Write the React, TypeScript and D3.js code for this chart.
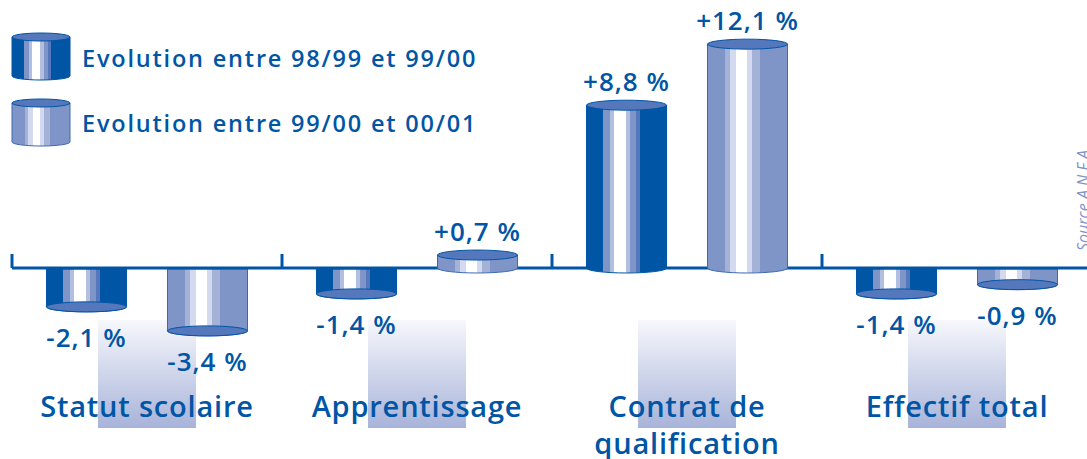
import React from "react";
import * as d3 from "d3";

const categories = ["Statut scolaire", "Apprentissage", "Contrat de qualification", "Effectif total"];
const categoryLines = [["Statut scolaire"], ["Apprentissage"], ["Contrat de", "qualification"], ["Effectif total"]];
const seriesKeys = ["s1", "s2"];
const seriesNames = ["Evolution entre 98/99 et 99/00", "Evolution entre 99/00 et 00/01"];
const series1 = [-2.1, -1.4, 8.8, -1.4];
const series2 = [-3.4, 0.7, 12.1, -0.9];
const sourceText = "Source A.N.F.A";

const W = 1087;
const H = 459;
const BLUE = "#0055a5";
const CAP = "#5577bb";
const FONT = "'Open Sans', 'Noto Sans', sans-serif";

const stops1: [number, number, string][] = [
  [0, 0.21, "#0055a5"],
  [0.21, 0.29, "#7f95c8"],
  [0.29, 0.35, "#b3bfe0"],
  [0.35, 0.49, "#ffffff"],
  [0.49, 0.55, "#b3bfe0"],
  [0.55, 0.62, "#7f95c8"],
  [0.62, 0.67, "#5577bb"],
  [0.67, 1, "#0055a5"],
];
const stops2: [number, number, string][] = [
  [0, 0.22, "#7f95c8"],
  [0.22, 0.28, "#a5b2d8"],
  [0.28, 0.36, "#d3d9ee"],
  [0.36, 0.49, "#ffffff"],
  [0.49, 0.55, "#d3d9ee"],
  [0.55, 0.66, "#a5b2d8"],
  [0.66, 1, "#7f95c8"],
];

function fmt(v: number) {
  const s = Math.abs(v).toFixed(1).replace(".", ",");
  return (v >= 0 ? "+" : "-") + s + " %";
}

function HardGradient({ id, stops }: { id: string; stops: [number, number, string][] }) {
  return (
    <linearGradient id={id} x1="0" x2="1" y1="0" y2="0">
      {stops.flatMap(([a, b, c], i) => [
        <stop key={i + "a"} offset={a} stopColor={c} />,
        <stop key={i + "b"} offset={b} stopColor={c} />,
      ])}
    </linearGradient>
  );
}

function Cylinder({ x, w, yTop, yBot, grad, stroke, ry, positive }: any) {
  const rx = w / 2;
  const x1 = x + w;
  const body = `M${x},${yTop} L${x},${yBot} A${rx},${ry} 0 0 0 ${x1},${yBot} L${x1},${yTop} Z`;
  return (
    <g>
      <path d={body} fill={`url(#${grad})`} stroke={stroke} strokeWidth={1} />
      {positive ? (
        <ellipse cx={x + rx} cy={yTop} rx={rx} ry={ry} fill={CAP} stroke={BLUE} strokeWidth={1} />
      ) : (
        <ellipse cx={x + rx} cy={yBot} rx={rx} ry={ry} fill={CAP} stroke={BLUE} strokeWidth={1} />
      )}
    </g>
  );
}

export default function App() {
  const axisY = 268;
  const pxPerUnit = 18.5;
  const y = d3.scaleLinear().domain([0, 1]).range([axisY, axisY - pxPerUnit]);
  const x0 = d3.scaleBand().domain(categories).range([12, 12 + 270 * 4]).paddingInner(0).paddingOuter(0);
  const x1 = d3.scaleBand().domain(seriesKeys).range([0, x0.bandwidth()]).paddingInner(0.339).paddingOuter(0.285);
  const values = [series1, series2];
  const grads = ["g1", "g2"];
  const strokes = [BLUE, "#3d68b0"];
  const ry = 5;

  return (
    <svg width={W} height={H} style={{ position: "absolute", left: 0, top: 0, display: "block" }}>
      <defs>
        <HardGradient id="g1" stops={stops1} />
        <HardGradient id="g2" stops={stops2} />
        <linearGradient id="box" x1="0" x2="0" y1="0" y2="1">
          <stop offset="0" stopColor="#f7f8fc" />
          <stop offset="1" stopColor="#a7b3d9" />
        </linearGradient>
      </defs>
      <rect x={0} y={0} width={W} height={H} fill="#fff" />

      {/* category gradient boxes */}
      {categories.map((c) => {
        const cx = (x0(c) as number) + x0.bandwidth() / 2;
        return <rect key={c} x={cx - 49} y={320} width={98} height={108} fill="url(#box)" />;
      })}

      {/* legend */}
      {seriesNames.map((n, i) => {
        const top = 37 + i * 66;
        return (
          <g key={n}>
            <Cylinder x={12} w={58} yTop={top} yBot={top + 39} grad={grads[i]} stroke={strokes[i]} ry={4} positive />
            <text x={82} y={67 + i * 65} fill={BLUE} fontFamily={FONT} fontSize={23.5} fontWeight={600} letterSpacing={1.8}>
              {n}
            </text>
          </g>
        );
      })}

      {/* negative bars first */}
      {categories.map((c, ci) =>
        seriesKeys.map((k, si) => {
          const v = values[si][ci];
          if (v >= 0) return null;
          const bx = (x0(c) as number) + (x1(k) as number);
          return (
            <Cylinder key={c + k} x={bx} w={x1.bandwidth()} yTop={axisY + 1} yBot={y(v)} grad={grads[si]} stroke={strokes[si]} ry={ry} positive={false} />
          );
        })
      )}

      {/* axis */}
      <line x1={12} x2={W} y1={axisY} y2={axisY} stroke={BLUE} strokeWidth={3} />
      {x0.domain().map((c) => (
        <line key={c} x1={x0(c) as number} x2={x0(c) as number} y1={254} y2={axisY} stroke={BLUE} strokeWidth={3} />
      ))}

      {/* positive bars */}
      {categories.map((c, ci) =>
        seriesKeys.map((k, si) => {
          const v = values[si][ci];
          if (v < 0) return null;
          const bx = (x0(c) as number) + (x1(k) as number);
          return (
            <Cylinder key={c + k} x={bx} w={x1.bandwidth()} yTop={y(v)} yBot={axisY} grad={grads[si]} stroke={strokes[si]} ry={ry} positive />
          );
        })
      )}

      {/* value labels */}
      {categories.map((c, ci) =>
        seriesKeys.map((k, si) => {
          const v = values[si][ci];
          const cx = (x0(c) as number) + (x1(k) as number) + x1.bandwidth() / 2;
          const ty = v >= 0 ? y(v) - 14 : y(v) + 40;
          return (
            <text key={"l" + c + k} x={cx} y={ty} textAnchor="middle" fill={BLUE} fontFamily={FONT} fontSize={26} fontWeight={600} letterSpacing={1}>
              {fmt(v)}
            </text>
          );
        })
      )}

      {/* category labels */}
      {categories.map((c, ci) => {
        const cx = (x0(c) as number) + x0.bandwidth() / 2;
        return (
          <text key={"c" + c} x={cx} y={417} textAnchor="middle" fill={BLUE} fontFamily={FONT} fontSize={29} fontWeight={600} letterSpacing={0.8}>
            {categoryLines[ci].map((l, li) => (
              <tspan key={li} x={cx} y={417 + li * 37}>
                {l}
              </tspan>
            ))}
          </text>
        );
      })}

      {/* source */}
      <text transform={`translate(1089,251) rotate(-90)`} fill="#7f95c8" fontFamily={FONT} fontSize={16} fontStyle="italic">
        {sourceText}
      </text>
    </svg>
  );
}
